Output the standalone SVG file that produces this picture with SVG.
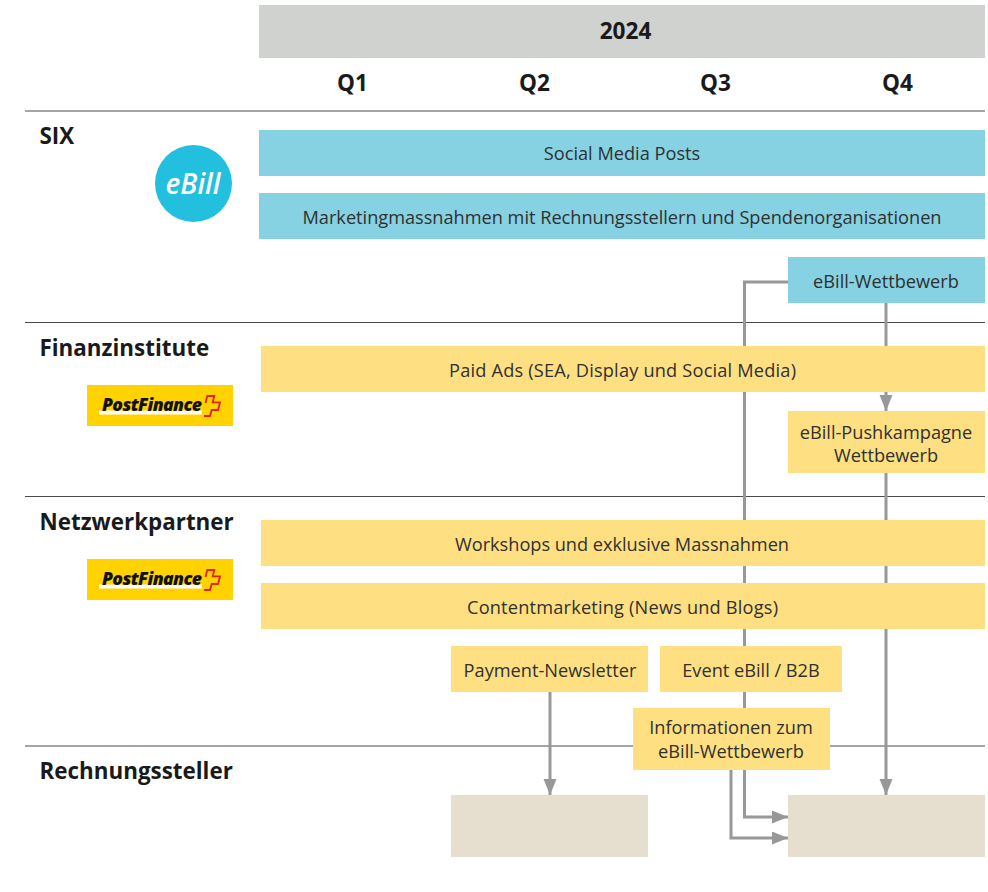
<svg xmlns="http://www.w3.org/2000/svg" xmlns:xlink="http://www.w3.org/1999/xlink" width="988" height="892" viewBox="0 0 988 892">
<style>
text{font-family:"Open Sans","Noto Sans","Liberation Sans",sans-serif;fill:#2b2b2b;text-anchor:middle}
.t{font-size:18.200px;font-weight:400;fill:#303030}
.h{font-size:22.600px;font-weight:700;fill:#1a1a1a}
.s{font-size:22.400px;font-weight:700;fill:#1a1a1a;text-anchor:start}
.blue{fill:#86d2e3}.yel{fill:#fee083}.tan{fill:#e6dece}
.rule{stroke:#4a4a4a;stroke-width:1;fill:none}
.c{stroke:#989898;stroke-width:3;fill:none}
.pf{font-size:17.600px;font-weight:800;font-style:italic;fill:#111;text-anchor:start;letter-spacing:-.6px;font-family:"Open Sans","Liberation Sans",sans-serif}
</style>
<defs>
<marker id="a" markerUnits="userSpaceOnUse" markerWidth="16" markerHeight="14" refX="16" refY="6.500" orient="auto"><path d="M0 0L16 6.500L0 13Z" fill="#989898"/></marker>
<g id="pflogo">
<rect x="0" y="0" width="146" height="41" fill="#ffd200"/>
<rect x="12" y="25.500" width="103" height="4" fill="#fff"/>
<text class="pf" x="15" y="26">PostFinance</text>
<path d="M118.500 18L120.300 11H127.300L125.700 17.300H133L131 25H124.700L123 31H117" fill="none" stroke="#e2231a" stroke-width="1.800"/>
</g>
</defs>
<g id="grid">
<path class="rule" d="M25 111H985M25 322.500H985M25 496.500H985M25 746H985"/>
</g>
<g id="connectors">
<path class="c" d="M788 282H744.500V817H788" marker-end="url(#a)"/>
<path class="c" d="M731 770V838H788" marker-end="url(#a)"/>
<path class="c" d="M886 303V411" marker-end="url(#a)"/>
<path class="c" d="M886 473V795" marker-end="url(#a)"/>
<path class="c" d="M550 692V795" marker-end="url(#a)"/>
</g>
<g id="year"><rect x="259" y="5" width="726" height="53" fill="#d0d2d0"/><text class="h" x="625.500" y="39">2024</text></g>
<g id="q1"><text class="h" x="352.500" y="91">Q1</text></g>
<g id="q2"><text class="h" x="534.500" y="91">Q2</text></g>
<g id="q3"><text class="h" x="715.500" y="91">Q3</text></g>
<g id="q4"><text class="h" x="897.500" y="91">Q4</text></g>
<g id="lane-six"><text class="s" x="39.500" y="144">SIX</text></g>
<g id="lane-fin"><text class="s" x="39.500" y="356">Finanzinstitute</text></g>
<g id="lane-netz"><text class="s" x="39.500" y="530">Netzwerkpartner</text></g>
<g id="lane-rech"><text class="s" x="39.500" y="779">Rechnungssteller</text></g>
<g id="logo-ebill"><circle cx="193.500" cy="183.500" r="38.500" fill="#22c0de"/><text x="193" y="193.500" style="font-size:28px;font-weight:600;font-style:italic;fill:#fff">eBill</text></g>
<g id="logo-pf1"><use xlink:href="#pflogo" href="#pflogo" x="87" y="385"/></g>
<g id="logo-pf2"><use xlink:href="#pflogo" href="#pflogo" x="87" y="559"/></g>
<g id="social"><rect class="blue" x="259" y="130" width="726" height="46"/><text class="t" x="622" y="160">Social Media Posts</text></g>
<g id="marketing"><rect class="blue" x="259" y="193" width="726" height="46"/><text class="t" x="622" y="223.500" textLength="639">Marketingmassnahmen mit Rechnungsstellern und Spendenorganisationen</text></g>
<g id="wettbewerb"><rect class="blue" x="788" y="257" width="197" height="46"/><text class="t" x="886" y="287.500">eBill-Wettbewerb</text></g>
<g id="paid"><rect class="yel" x="261" y="346" width="724" height="46"/><text class="t" x="622.500" y="376.500" textLength="347">Paid Ads (SEA, Display und Social Media)</text></g>
<g id="push"><rect class="yel" x="788" y="411" width="197" height="62"/><text class="t" x="886" y="438.500">eBill-Pushkampagne</text><text class="t" x="886" y="461.500">Wettbewerb</text></g>
<g id="workshops"><rect class="yel" x="261" y="520" width="724" height="46"/><text class="t" x="622" y="550.500" textLength="334">Workshops und exklusive Massnahmen</text></g>
<g id="content"><rect class="yel" x="261" y="583" width="724" height="46"/><text class="t" x="622.500" y="613.500" textLength="311">Contentmarketing (News und Blogs)</text></g>
<g id="newsletter"><rect class="yel" x="451" y="646" width="197" height="46"/><text class="t" x="550" y="676.500">Payment-Newsletter</text></g>
<g id="event"><rect class="yel" x="660" y="646" width="182" height="46"/><text class="t" x="751" y="676.500">Event eBill / B2B</text></g>
<g id="info"><rect class="yel" x="633" y="708" width="197" height="62"/><text class="t" x="731" y="734">Informationen zum</text><text class="t" x="731" y="758">eBill-Wettbewerb</text></g>
<g id="target1"><rect class="tan" x="451" y="795" width="197" height="62"/></g>
<g id="target2"><rect class="tan" x="788" y="795" width="197" height="62"/></g>
</svg>
